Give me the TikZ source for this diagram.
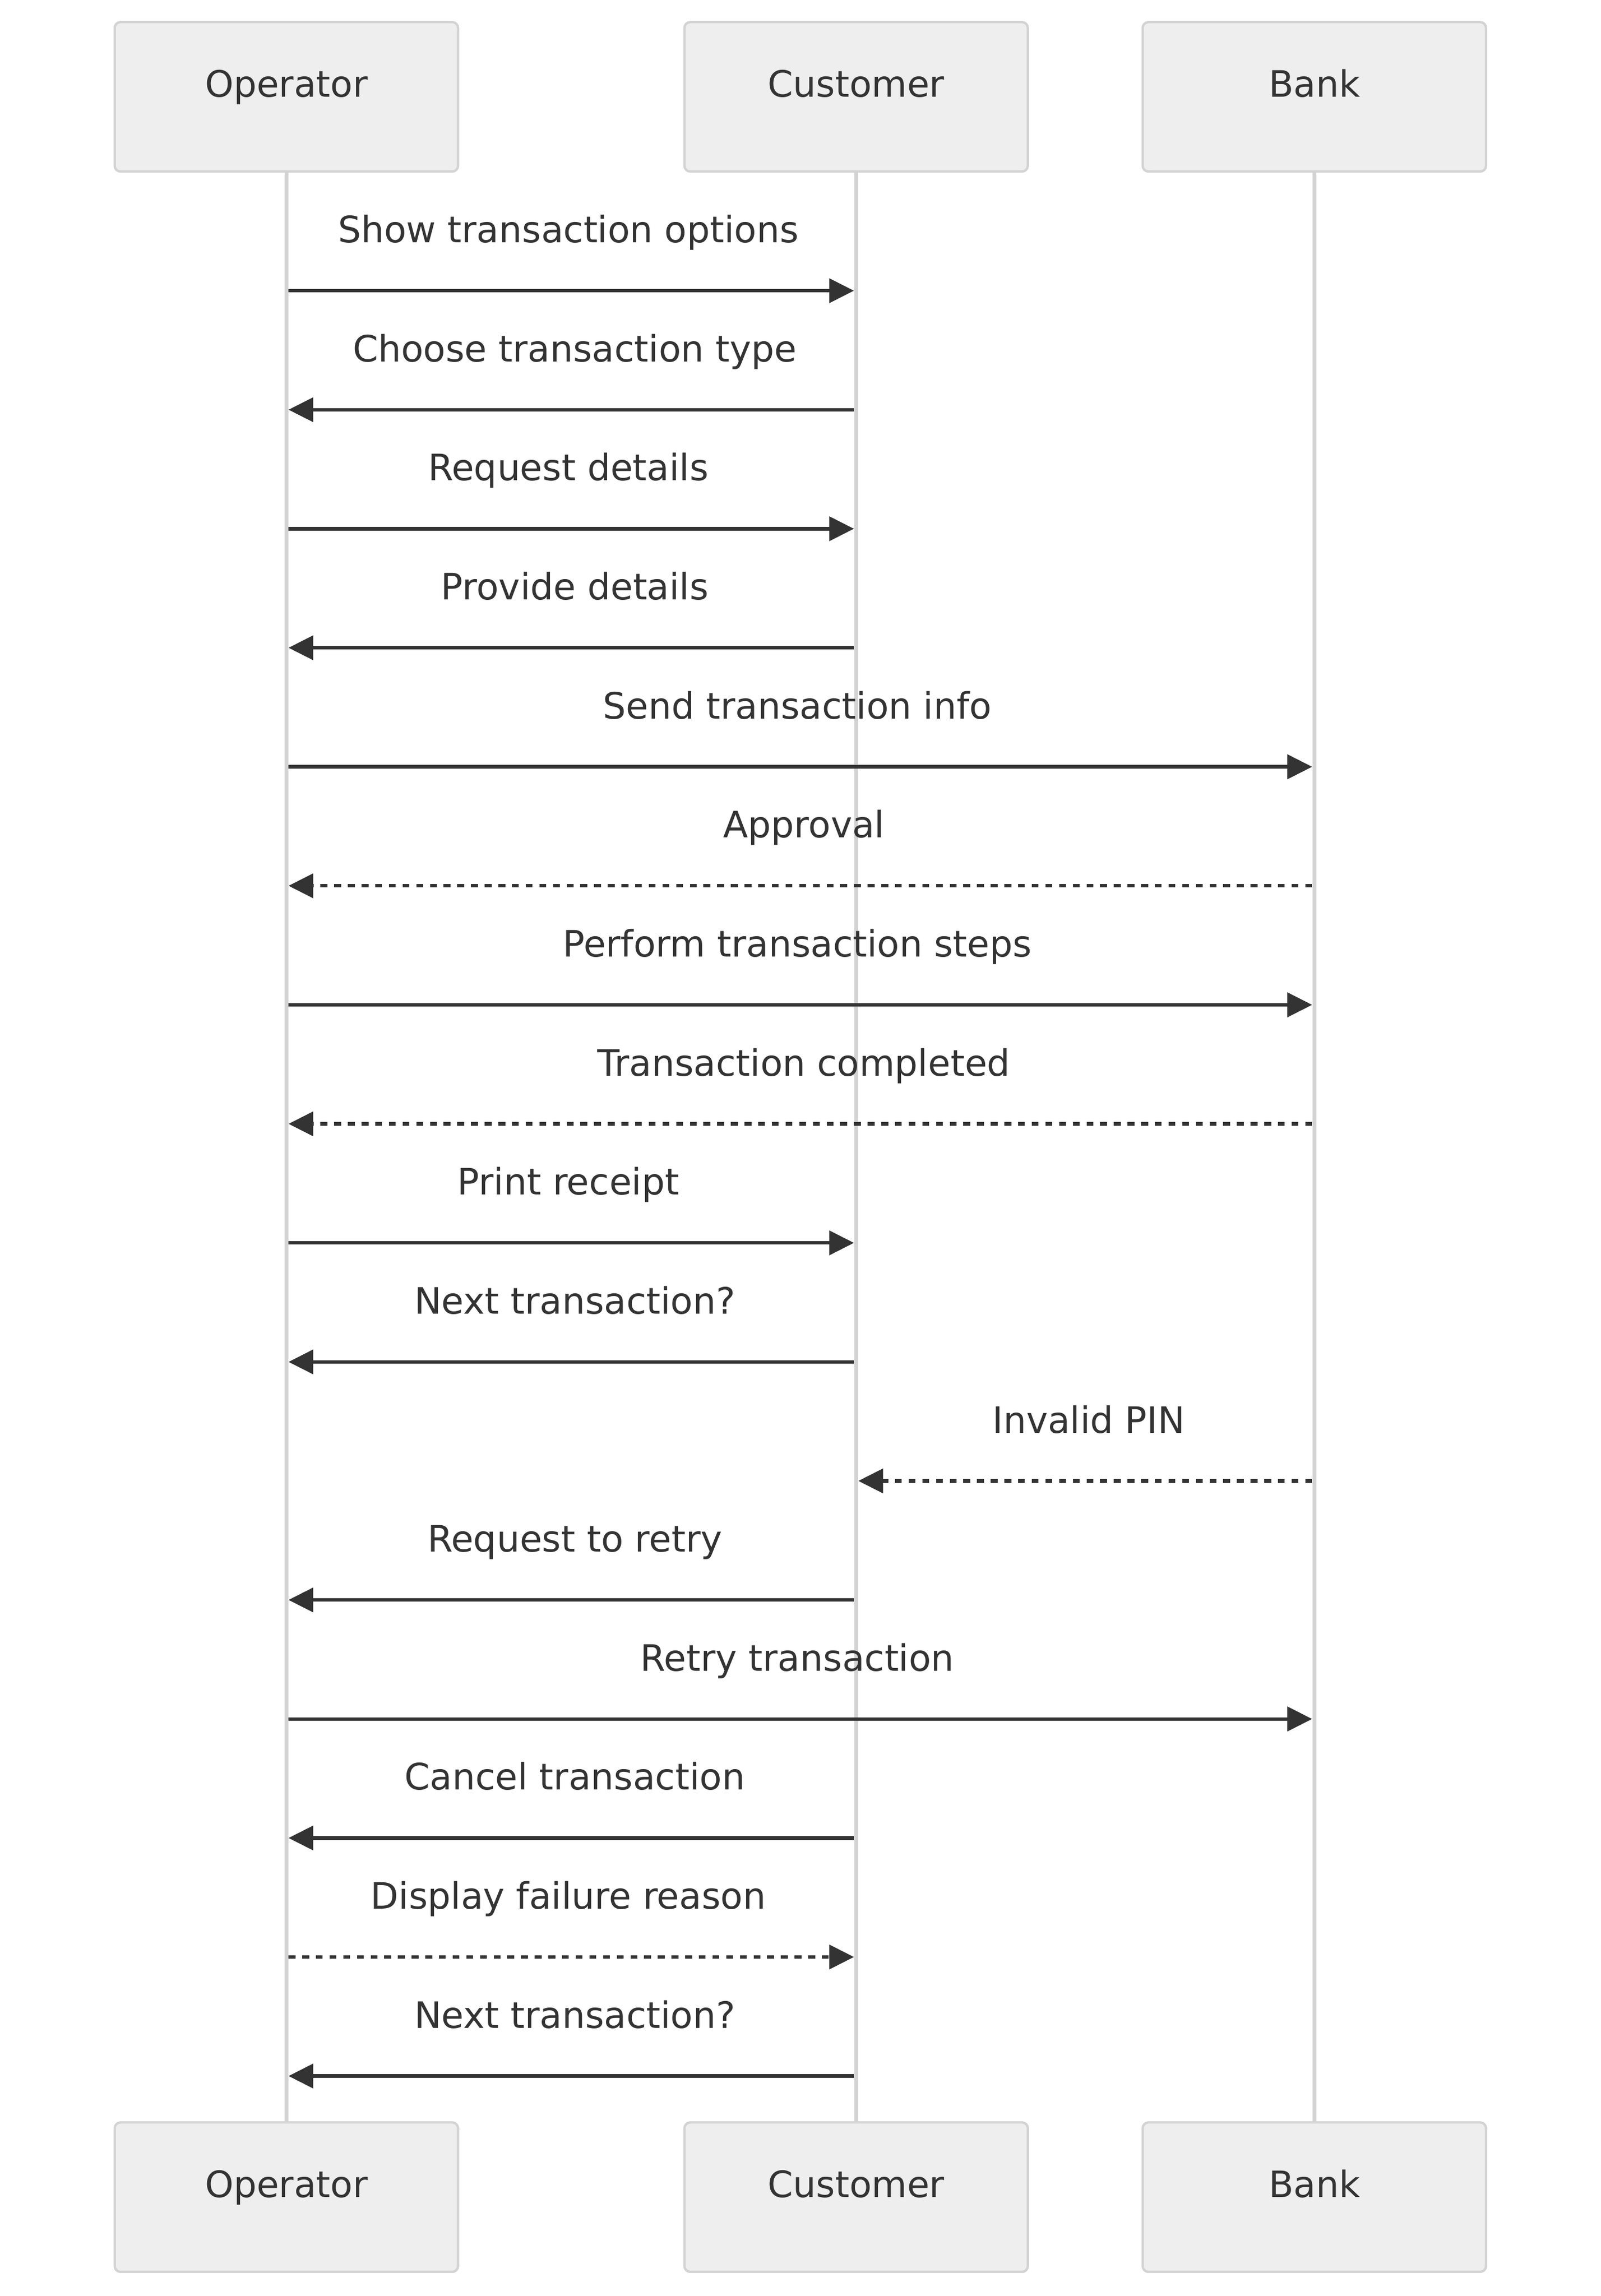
\documentclass[tikz,border=0pt]{standalone}
\usepackage{fontspec}
\setmainfont{DejaVu Sans}
\usepackage{xcolor}
\usetikzlibrary{arrows.meta}

\definecolor{ink}{HTML}{333333}
\definecolor{actorfill}{HTML}{EEEEEE}
\definecolor{actorline}{HTML}{D3D3D3}

\begin{document}
\begin{tikzpicture}[x=1pt,y=1pt,yscale=-1,xscale=1,
  actor/.style={draw=actorline,fill=actorfill,line width=1.6pt,rounded corners=4pt,minimum width=236pt,minimum height=102.7pt,inner sep=0pt,text=ink,font=\fontsize{25}{30}\selectfont,text height=6pt,text depth=6pt},
  life/.style={draw=actorline,line width=2.6pt},
  msg/.style={draw=ink,line width=2.4pt,-{Triangle[length=17pt,width=16.5pt]},shorten <=1.5pt,shorten >=1.5pt},
  reply/.style={msg,dash pattern=on 4.7pt off 4.7pt},
  lbl/.style={anchor=base,inner sep=0pt,text=ink,font=\fontsize{25}{30}\selectfont}]
\useasboundingbox (0,0) rectangle (1100,1578);

%Shape: Rectangle (top actors)
\draw (196.8,66.55) node [actor] (opTop) {Operator};
\draw (588.4,66.55) node [actor] (cuTop) {Customer};
\draw (903.3,66.55) node [actor] (baTop) {Bank};
%Shape: Rectangle (bottom actors)
\draw (196.8,1510.05) node [actor] (opBot) {Operator};
\draw (588.4,1510.05) node [actor] (cuBot) {Customer};
\draw (903.3,1510.05) node [actor] (baBot) {Bank};

%Straight Lines (lifelines)
\draw [life] (opTop) -- (opBot);
\draw [life] (cuTop) -- (cuBot);
\draw [life] (baTop) -- (baBot);

% message rows
\coordinate (r1) at (0,199.8);
\coordinate (r2) at (0,281.6);
\coordinate (r3) at (0,363.4);
\coordinate (r4) at (0,445.2);
\coordinate (r5) at (0,527.0);
\coordinate (r6) at (0,608.8);
\coordinate (r7) at (0,690.6);
\coordinate (r8) at (0,772.4);
\coordinate (r9) at (0,854.2);
\coordinate (r10) at (0,936.0);
\coordinate (r11) at (0,1017.8);
\coordinate (r12) at (0,1099.6);
\coordinate (r13) at (0,1181.4);
\coordinate (r14) at (0,1263.2);
\coordinate (r15) at (0,1345.0);
\coordinate (r16) at (0,1426.8);

%Straight Lines (messages)
\draw [msg] (opTop |- r1) -- (cuTop |- r1);
\draw [msg] (cuTop |- r2) -- (opTop |- r2);
\draw [msg] (opTop |- r3) -- (cuTop |- r3);
\draw [msg] (cuTop |- r4) -- (opTop |- r4);
\draw [msg] (opTop |- r5) -- (baTop |- r5);
\draw [reply] (baTop |- r6) -- (opTop |- r6);
\draw [msg] (opTop |- r7) -- (baTop |- r7);
\draw [reply] (baTop |- r8) -- (opTop |- r8);
\draw [msg] (opTop |- r9) -- (cuTop |- r9);
\draw [msg] (cuTop |- r10) -- (opTop |- r10);
\draw [reply] (baTop |- r11) -- (cuTop |- r11);
\draw [msg] (cuTop |- r12) -- (opTop |- r12);
\draw [msg] (opTop |- r13) -- (baTop |- r13);
\draw [msg] (cuTop |- r14) -- (opTop |- r14);
\draw [reply] (opTop |- r15) -- (cuTop |- r15);
\draw [msg] (cuTop |- r16) -- (opTop |- r16);

% Text Node
\draw (390.6,166.8) node [lbl] (t1) {Show transaction options};
% Text Node
\draw (395.1,248.6) node [lbl] (t2) {Choose transaction type};
% Text Node
\draw (390.6,330.4) node [lbl] (t3) {Request details};
% Text Node
\draw (395.1,412.2) node [lbl] (t4) {Provide details};
% Text Node
\draw (548.0,494.0) node [lbl] (t5) {Send transaction info};
% Text Node
\draw (552.5,575.8) node [lbl] (t6) {Approval};
% Text Node
\draw (548.0,657.6) node [lbl] (t7) {Perform transaction steps};
% Text Node
\draw (552.5,739.4) node [lbl] (t8) {Transaction completed};
% Text Node
\draw (390.6,821.2) node [lbl] (t9) {Print receipt};
% Text Node
\draw (395.1,903.0) node [lbl] (t10) {Next transaction?};
% Text Node
\draw (748.3,984.8) node [lbl] (t11) {Invalid PIN};
% Text Node
\draw (395.1,1066.6) node [lbl] (t12) {Request to retry};
% Text Node
\draw (548.0,1148.4) node [lbl] (t13) {Retry transaction};
% Text Node
\draw (395.1,1230.2) node [lbl] (t14) {Cancel transaction};
% Text Node
\draw (390.6,1312.0) node [lbl] (t15) {Display failure reason};
% Text Node
\draw (395.1,1393.8) node [lbl] (t16) {Next transaction?};

\end{tikzpicture}
\end{document}
